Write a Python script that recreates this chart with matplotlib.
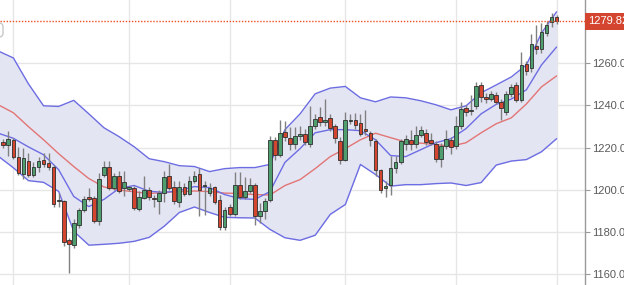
import matplotlib
matplotlib.use("Agg")
import matplotlib.pyplot as plt
import matplotlib.transforms as mtransforms
from matplotlib.patches import FancyBboxPatch

plt.rcParams['font.family'] = ['Liberation Sans', 'DejaVu Sans']

# daily candles, oldest first
opens = [1222.8, 1221.3, 1223.7, 1215.5, 1207.6, 1213.4, 1207.0, 1211.0, 1214.0, 1212.7,
         1211.0, 1194.5, 1194.6, 1176.2, 1174.0, 1183.5, 1190.6, 1196.6, 1196.0, 1185.0,
         1207.0, 1211.0, 1200.8, 1206.7, 1200.6, 1200.4, 1200.8, 1191.0, 1196.2, 1199.7,
         1196.0, 1194.6, 1198.5, 1206.7, 1201.5, 1194.3, 1201.2, 1198.2, 1204.0, 1207.5,
         1201.7, 1198.5, 1201.2, 1195.2, 1182.3, 1191.8, 1188.3, 1202.4, 1196.6, 1199.3,
         1202.4, 1187.5, 1189.9, 1195.0, 1223.7, 1216.6, 1227.2, 1224.5, 1221.8, 1225.3,
         1226.6, 1221.8, 1230.0, 1234.3, 1232.0, 1234.0, 1230.0, 1222.9, 1214.3, 1232.7,
         1232.9, 1231.6, 1228.8, 1226.9, 1223.0, 1209.2, 1200.6, 1202.4, 1210.2, 1213.0,
         1221.8, 1223.7, 1221.8, 1226.1, 1226.9, 1223.4, 1221.8, 1214.6, 1220.6, 1223.7,
         1220.6, 1230.3, 1238.7, 1237.5, 1239.5, 1249.7, 1244.2, 1243.0, 1245.0, 1241.8,
         1236.7, 1245.5, 1249.7, 1242.6, 1259.7, 1257.6, 1268.2, 1266.6, 1274.5, 1279.8,
         1282.0]
closes = [1221.3, 1224.0, 1215.7, 1208.0, 1215.0, 1207.0, 1211.0, 1213.4, 1212.0, 1210.8,
          1193.0, 1194.8, 1175.0, 1174.2, 1184.2, 1190.6, 1195.6, 1195.4, 1185.0, 1205.0,
          1211.0, 1201.0, 1206.7, 1199.5, 1203.6, 1201.1, 1191.4, 1196.6, 1199.7, 1196.4,
          1195.6, 1198.5, 1206.0, 1201.0, 1194.6, 1201.2, 1198.2, 1204.0, 1206.7, 1200.0,
          1202.0, 1200.8, 1194.1, 1182.3, 1190.6, 1188.6, 1202.4, 1196.6, 1199.3, 1202.4,
          1187.5, 1189.9, 1194.6, 1223.7, 1216.6, 1226.9, 1225.0, 1221.8, 1225.6, 1226.6,
          1222.5, 1230.0, 1233.5, 1232.0, 1233.2, 1229.3, 1224.5, 1214.3, 1232.9, 1233.0,
          1230.8, 1226.6, 1228.0, 1223.4, 1209.2, 1200.0, 1202.0, 1210.2, 1213.0, 1222.9,
          1224.0, 1221.8, 1225.9, 1228.2, 1222.6, 1222.2, 1214.6, 1220.6, 1224.0, 1220.3,
          1230.3, 1238.2, 1236.8, 1238.0, 1249.2, 1244.2, 1243.0, 1245.5, 1241.8, 1238.7,
          1245.5, 1248.9, 1242.6, 1259.2, 1256.5, 1269.0, 1266.6, 1275.0, 1278.1, 1282.0,
          1279.82]
highs = [1224.0, 1228.0, 1224.5, 1220.5, 1220.0, 1217.5, 1213.0, 1215.7, 1217.4, 1217.4,
         1211.5, 1198.5, 1195.0, 1177.0, 1186.0, 1191.5, 1197.0, 1201.0, 1197.0, 1208.0,
         1213.4, 1213.5, 1208.0, 1209.0, 1208.8, 1202.0, 1202.0, 1199.5, 1206.7, 1201.5,
         1197.6, 1200.0, 1208.8, 1212.0, 1204.0, 1204.2, 1203.0, 1206.5, 1208.8, 1210.4,
         1204.0, 1203.0, 1202.0, 1197.6, 1192.0, 1193.0, 1208.3, 1208.3, 1206.0, 1205.5,
         1203.0, 1193.8, 1196.0, 1225.3, 1225.0, 1232.9, 1232.7, 1229.6, 1229.6, 1230.0,
         1229.0, 1239.5, 1236.0, 1239.2, 1243.0, 1236.0, 1231.0, 1225.0, 1237.0, 1236.0,
         1236.5, 1236.0, 1238.0, 1228.0, 1224.0, 1210.0, 1204.3, 1215.8, 1216.0, 1224.0,
         1226.0, 1228.5, 1230.0, 1230.0, 1229.0, 1227.0, 1223.0, 1222.0, 1228.5, 1225.0,
         1234.8, 1241.8, 1240.0, 1245.0, 1251.0, 1251.0, 1246.0, 1247.0, 1246.5, 1243.0,
         1247.0, 1250.0, 1251.0, 1265.5, 1261.0, 1274.0, 1278.0, 1279.0, 1280.0, 1283.6,
         1282.8]
lows = [1220.0, 1216.0, 1214.5, 1207.0, 1205.0, 1206.0, 1206.0, 1208.6, 1211.0, 1209.5,
        1191.8, 1192.0, 1173.5, 1160.5, 1172.5, 1182.0, 1189.5, 1194.5, 1184.0, 1183.5,
        1206.0, 1200.0, 1200.0, 1198.5, 1197.0, 1199.5, 1190.3, 1190.0, 1195.5, 1195.0,
        1192.0, 1188.3, 1194.0, 1200.0, 1193.0, 1192.0, 1197.0, 1197.5, 1203.0, 1187.5,
        1188.0, 1197.0, 1193.0, 1181.0, 1180.8, 1187.5, 1187.5, 1195.5, 1195.5, 1198.5,
        1183.5, 1184.0, 1186.0, 1194.0, 1214.0, 1215.5, 1223.0, 1219.0, 1219.5, 1223.5,
        1221.0, 1220.5, 1229.0, 1230.0, 1230.0, 1228.0, 1222.3, 1212.0, 1213.5, 1231.0,
        1229.0, 1225.5, 1226.0, 1220.6, 1206.4, 1198.5, 1196.6, 1197.7, 1208.0, 1212.0,
        1218.7, 1219.0, 1220.0, 1225.0, 1221.0, 1221.0, 1213.0, 1211.0, 1219.5, 1216.8,
        1219.5, 1229.0, 1235.0, 1235.6, 1238.5, 1241.8, 1241.0, 1242.0, 1240.5, 1233.2,
        1235.3, 1244.0, 1241.8, 1241.5, 1254.5, 1256.0, 1264.5, 1265.0, 1273.0, 1277.3,
        1278.5]

# indicator lines, read every third candle
band_idx = list(range(-1, 111, 3))
upper = [1265.8, 1262.5, 1250.2, 1239.8, 1239.5, 1242.4, 1236.0, 1229.4, 1225.2, 1220.4,
         1214.7, 1213.3, 1211.4, 1211.0, 1208.6, 1210.0, 1210.5, 1210.5, 1212.0, 1228.5,
         1236.0, 1245.5, 1248.2, 1249.0, 1243.6, 1241.7, 1244.0, 1243.6, 1242.2, 1240.3,
         1237.9, 1239.8, 1246.0, 1249.7, 1253.5, 1259.2, 1274.3, 1284.4]
fast = [1226.8, 1224.4, 1220.3, 1216.6, 1209.5, 1196.8, 1192.0, 1195.4, 1200.6, 1202.0,
        1199.3, 1198.7, 1199.6, 1201.5, 1201.0, 1197.7, 1195.8, 1195.4, 1199.1, 1213.0,
        1219.5, 1227.0, 1228.5, 1228.5, 1228.0, 1223.7, 1216.2, 1215.7, 1219.0, 1222.3,
        1224.2, 1229.0, 1236.0, 1240.5, 1243.0, 1247.4, 1259.2, 1267.7]
middle = [1240.3, 1236.5, 1229.9, 1223.7, 1217.1, 1211.0, 1205.3, 1201.3, 1199.9, 1199.0,
          1198.2, 1198.7, 1199.1, 1199.4, 1199.1, 1198.4, 1198.2, 1197.7, 1197.5, 1202.0,
          1204.8, 1210.0, 1215.7, 1219.5, 1223.7, 1226.8, 1224.7, 1222.6, 1222.1, 1221.4,
          1220.6, 1222.3, 1227.0, 1231.3, 1234.1, 1240.7, 1248.8, 1254.0]
lower = [1215.9, 1210.4, 1204.3, 1203.5, 1199.2, 1180.3, 1173.7, 1174.1, 1174.6, 1175.5,
         1177.4, 1182.7, 1189.2, 1191.8, 1189.2, 1186.9, 1186.7, 1186.6, 1181.2, 1177.2,
         1176.0, 1178.4, 1188.3, 1193.0, 1212.0, 1207.2, 1201.7, 1202.4, 1202.4, 1202.9,
         1203.2, 1202.0, 1203.4, 1211.7, 1213.6, 1214.3, 1218.0, 1224.2]

grid_idx = [2, 25, 45, 68, 90, 110]
yticks = [1160, 1180, 1200, 1220, 1240, 1260]
last_price = closes[-1]

GREEN = '#4f9f6e'
RED = '#d4452f'
BLUE = '#6d6de3'

fig = plt.figure(figsize=(6.24, 2.85), dpi=100)
ax = fig.add_axes([0, 0, 585 / 624, 1])

ax.fill_between(band_idx, lower, upper, color='#e4e5f3', lw=0, zorder=1)
line_kw = dict(lw=1, zorder=2, solid_joinstyle='round', solid_capstyle='round')
ax.plot(band_idx, upper, color=BLUE, **line_kw)
ax.plot(band_idx, lower, color=BLUE, **line_kw)
ax.plot(band_idx, middle, color='#e27575', **line_kw)
ax.plot(band_idx, fast, color=BLUE, **line_kw)

x = list(range(len(opens)))
colors = [GREEN if c >= o else RED for o, c in zip(opens, closes)]
bottoms = [min(o, c) for o, c in zip(opens, closes)]
heights = [max(abs(c - o), 0.5) for o, c in zip(opens, closes)]
ax.vlines(x, lows, highs, color='#808080', lw=1, zorder=3)
ax.bar(x, heights, bottom=bottoms, width=0.74, color=colors,
       edgecolor='#2f2f2f', linewidth=0.6, zorder=4)

ax.axhline(last_price, color='#ec4f22', lw=1, ls=(0, (1, 1.2)), zorder=5)

ax.set_xlim(-0.66, 115.65)
ax.set_ylim(1154.8, 1290.0)
ax.set_xticks(grid_idx)
ax.set_yticks(yticks)
ax.set_yticklabels([f'{v:.2f}' for v in yticks])
ax.grid(True, color='#e6e6e6', lw=1, zorder=0)
ax.set_axisbelow(True)

ax.yaxis.tick_right()
ax.tick_params(axis='x', length=0, labelbottom=False)
ax.tick_params(axis='y', length=3.5, width=0.8, color='#9a9a9a', pad=1.5,
               labelsize=8, labelcolor='#5a5a5a')
for side in ['top', 'left', 'bottom']:
    ax.spines[side].set_visible(False)
ax.spines['right'].set_color('#9a9a9a')
ax.spines['right'].set_linewidth(1)

trans = mtransforms.blended_transform_factory(ax.transAxes, ax.transData)
ax.annotate(f'{last_price:.2f}', xy=(1.0, last_price), xycoords=trans,
            xytext=(2.2, 0), textcoords='offset points', ha='left', va='center',
            fontsize=8, color='white', annotation_clip=False,
            bbox=dict(boxstyle='square,pad=0.28', fc=RED, ec='none'))

# edge of a toolbar button peeking in at the top left (display pixels, origin bottom-left)
fig.patches.append(FancyBboxPatch((-18, 248), 21, 14, boxstyle='round,pad=0,rounding_size=4',
                                  transform=None, fc='white', ec='#c8c8c8', lw=1))

fig.savefig('out.png', dpi=100)
